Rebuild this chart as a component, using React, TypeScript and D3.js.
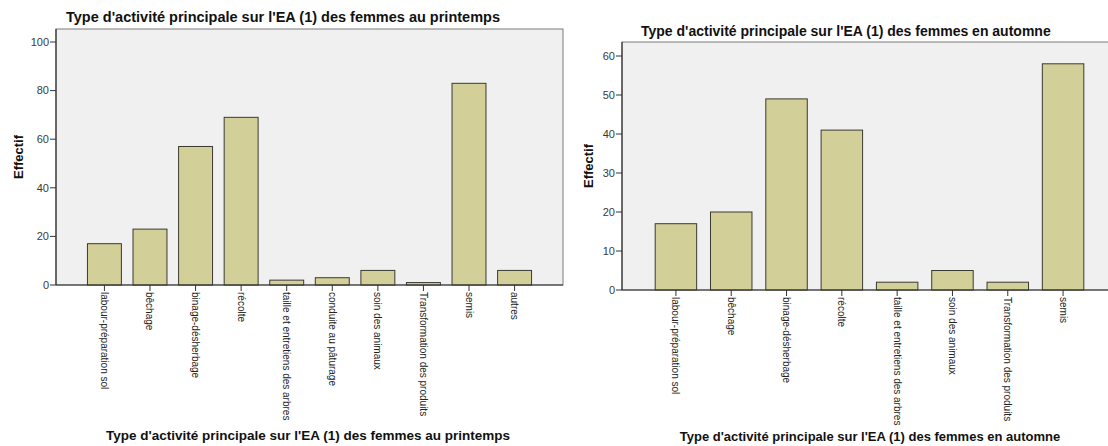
import React from "react";
import * as d3 from "d3";

const springCategories = [
  "labour-préparation sol",
  "bêchage",
  "binage-désherbage",
  "récolte",
  "taille et entretiens des arbres",
  "conduite au pâturage",
  "soin des animaux",
  "Transformation des produits",
  "semis",
  "autres",
];
const springValues = [17, 23, 57, 69, 2, 3, 6, 1, 83, 6];
const springTicks = [0, 20, 40, 60, 80, 100];

const autumnCategories = [
  "labour-préparation sol",
  "bêchage",
  "binage-désherbage",
  "récolte",
  "taille et entretiens des arbres",
  "soin des animaux",
  "Transformation des produits",
  "semis",
];
const autumnValues = [17, 20, 49, 41, 2, 5, 2, 58];
const autumnTicks = [0, 10, 20, 30, 40, 50, 60];

const springTitle = "Type d'activité principale sur l'EA (1) des femmes au printemps";
const autumnTitle = "Type d'activité principale sur l'EA (1) des femmes en automne";
const yTitle = "Effectif";

const FONT = "'Liberation Sans', Arial, sans-serif";

type PanelProps = {
  cats: string[];
  vals: number[];
  ticks: number[];
  left: number;
  right: number;
  top: number;
  bottom: number;
  pxPerUnit: number;
  title: string;
  titleX: number;
  titleY: number;
  titleSize: number;
  xTitleX: number;
  xTitleY: number;
  xTitleSize: number;
  yTitleX: number;
  paddingInner: number;
  paddingOuter: number;
};

function Panel(p: PanelProps) {
  const y = d3
    .scaleLinear()
    .domain([0, (p.bottom - p.top) / p.pxPerUnit])
    .range([p.bottom, p.top]);
  const x = d3
    .scaleBand<string>()
    .domain(p.cats)
    .range([p.left, p.right])
    .paddingInner(p.paddingInner)
    .paddingOuter(p.paddingOuter);
  const bw = x.bandwidth();
  const yMid = (p.top + p.bottom) / 2;
  return (
    <g fontFamily={FONT}>
      <rect x={p.left} y={p.top} width={p.right - p.left} height={p.bottom - p.top} fill="#f0f0f0" stroke="#7a7a7a" strokeWidth={1} />
      {p.cats.map((c, i) => (
        <rect
          key={c}
          x={x(c)!}
          y={y(p.vals[i])}
          width={bw}
          height={p.bottom - y(p.vals[i])}
          fill="#d3cf98"
          stroke="#3a3a30"
          strokeWidth={1}
        />
      ))}
      <line x1={p.left} x2={p.right} y1={p.bottom} y2={p.bottom} stroke="#333" strokeWidth={1.2} />
      <line x1={p.left} x2={p.left} y1={p.top} y2={p.bottom} stroke="#333" strokeWidth={1.2} />
      {p.ticks.map((t) => (
        <g key={t}>
          <line x1={p.left - 6} x2={p.left} y1={y(t)} y2={y(t)} stroke="#333" strokeWidth={1} />
          <text x={p.left - 7} y={y(t)} dy="0.35em" textAnchor="end" fontSize={11} fill="#3a3a3a">
            {t}
          </text>
        </g>
      ))}
      {p.cats.map((c) => {
        const cx = x(c)! + bw / 2;
        return (
          <g key={"l" + c}>
            <line x1={cx} x2={cx} y1={p.bottom} y2={p.bottom + 6} stroke="#333" strokeWidth={1} />
            <text
              transform={`translate(${cx},${p.bottom + 7}) rotate(90)`}
              textAnchor="start"
              dy="0.35em"
              fontSize={10}
              fill="#222"
            >
              {c}
            </text>
          </g>
        );
      })}
      <text x={p.titleX} y={p.titleY} fontSize={p.titleSize} fontWeight="bold" fill="#111">
        {p.title}
      </text>
      <text x={p.xTitleX} y={p.xTitleY} textAnchor="middle" fontSize={p.xTitleSize} fontWeight="bold" fill="#111">
        {p.title}
      </text>
      <text
        transform={`translate(${p.yTitleX},${yMid}) rotate(-90)`}
        textAnchor="middle"
        fontSize={13}
        fontWeight="bold"
        fill="#111"
      >
        {yTitle}
      </text>
    </g>
  );
}

export default function App() {
  return (
    <svg
      width={1108}
      height={446}
      style={{ position: "absolute", left: 0, top: 0, background: "#fff" }}
    >
      <rect width={1108} height={446} fill="#fff" />
      <Panel
        cats={springCategories}
        vals={springValues}
        ticks={springTicks}
        left={56}
        right={563}
        top={29}
        bottom={285}
        pxPerUnit={2.43}
        title={springTitle}
        titleX={66}
        titleY={22}
        titleSize={14.5}
        xTitleX={308}
        xTitleY={440}
        xTitleSize={13.5}
        yTitleX={23}
        paddingInner={0.255}
        paddingOuter={0.69}
      />
      <Panel
        cats={autumnCategories}
        vals={autumnValues}
        ticks={autumnTicks}
        left={622}
        right={1117}
        top={42}
        bottom={290}
        pxPerUnit={3.9}
        title={autumnTitle}
        titleX={641}
        titleY={36}
        titleSize={14}
        xTitleX={870}
        xTitleY={441}
        xTitleSize={13}
        yTitleX={593}
        paddingInner={0.25}
        paddingOuter={0.6}
      />
    </svg>
  );
}
